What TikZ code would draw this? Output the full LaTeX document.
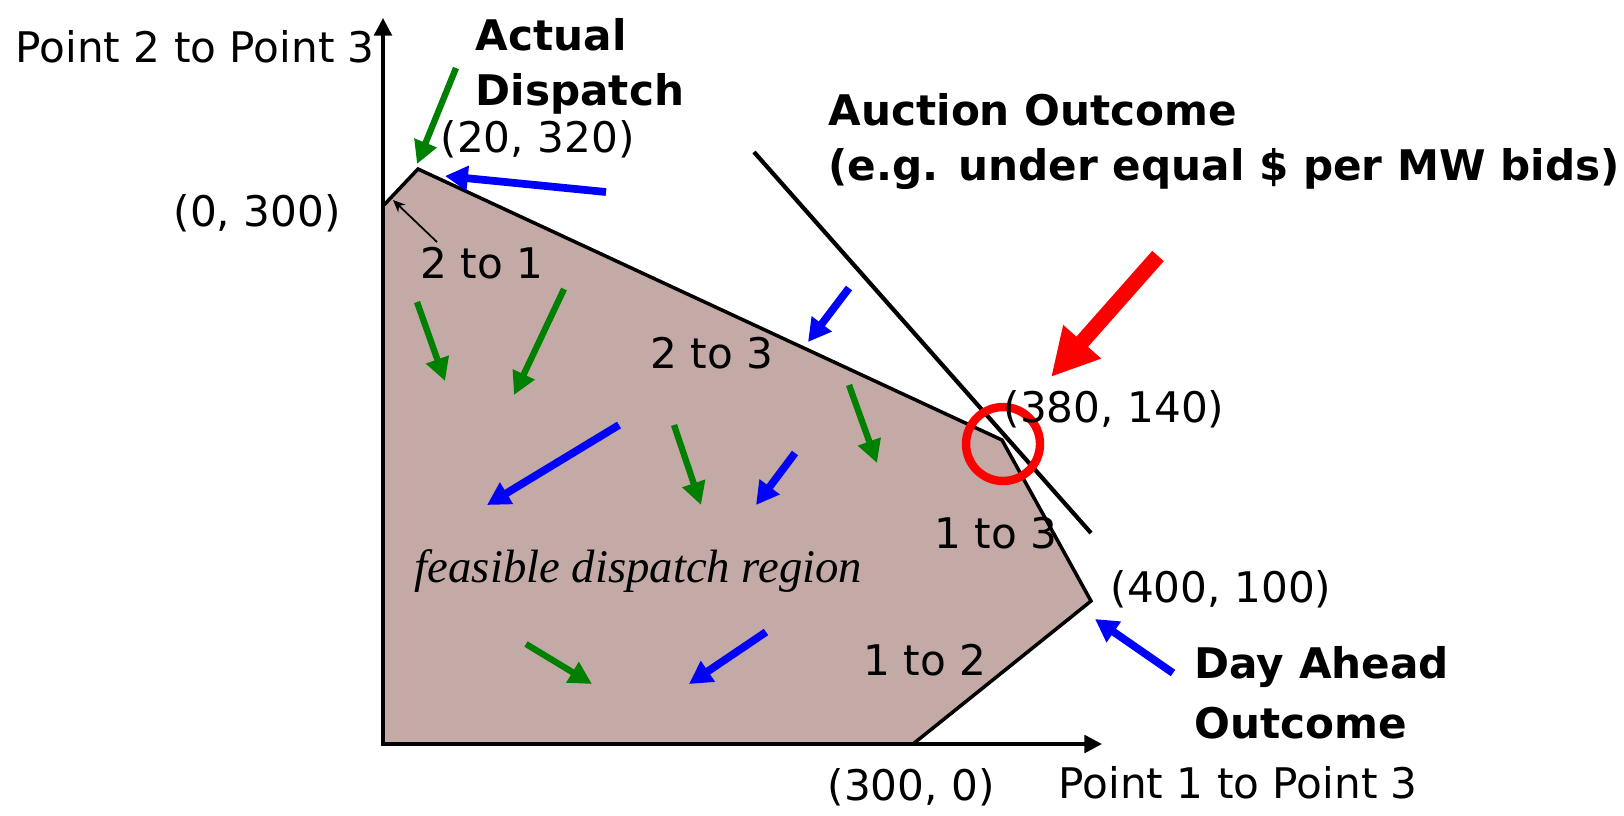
\documentclass[tikz,border=0pt]{standalone}
\usepackage{fontspec}
\setmainfont{DejaVu Sans}
\newfontfamily\regionfont{Liberation Serif}
\usetikzlibrary{arrows.meta}

\definecolor{regionfill}{RGB}{196,170,166}
\definecolor{flowgreen}{RGB}{0,128,0}

\begin{document}
\begin{tikzpicture}[x=0.1mm, y=-0.1mm, font=\fontsize{12}{15}\selectfont, axis/.style={line width=1pt, -{Triangle[length=5pt,width=5pt]}}, coordlbl/.style={anchor=base west, inner sep=0pt}, callout/.style={anchor=base west, inner sep=0pt, align=left, font=\fontsize{12}{15.6}\selectfont\bfseries}, greenflow/.style={draw=flowgreen, line width=1.8pt, -{Triangle[length=6.5pt,width=6.5pt]}}, blueflow/.style={draw=blue, line width=2.2pt, -{Triangle[length=6.5pt,width=6.8pt]}}, bidarrow/.style={draw=red, line width=4.4pt, -{Triangle[length=13.4pt,width=13.4pt]}}]
\useasboundingbox (0,0) rectangle (1624,815);
% corners of the region
\coordinate (origin) at (383,744);
\coordinate (v0300) at (383,206);
\coordinate (v20320) at (418,169);
\coordinate (v380140) at (1002,440);
\coordinate (v400100) at (1091,601);
\coordinate (v3000) at (913,744);
\coordinate (ytip) at (383,18);
\coordinate (xtip) at (1102,744);
\filldraw[fill=regionfill, line width=1pt] (origin) -- (v0300) -- (v20320) -- (v380140) -- (v400100) -- (v3000) -- cycle;
\draw[axis] (origin) -- (ytip);
\draw[axis] (origin) -- (xtip);
% auction outcome line and marker
\coordinate (bidtop) at (754,152);
\coordinate (bidbot) at (1091,533);
\draw[line width=1.2pt] (bidtop) -- (bidbot);
\node[circle, draw=red, line width=2.4pt, minimum size=7.4mm, inner sep=0pt] (ring) at (1003,444) {};
\draw[bidarrow] (1158,256) -- (1051,377);
% flows
\foreach \a/\b/\c/\d in {456/68/417/164, 417/302/445/381, 564/289/514/395, 849/385/877/463, 674/425/701/505, 526/644/592/684}
  \draw[greenflow] (\a,\b) -- (\c,\d);
\foreach \a/\b/\c/\d in {606/192/445/176, 849/288/808/342, 619/425/487/505, 795/453/756/505, 766/632/689/684, 1173/673/1095/619}
  \draw[blueflow] (\a,\b) -- (\c,\d);
\draw[line width=0.5pt, -{Stealth[length=3.5pt,width=3pt]}] (437,242) -- (393,200);
% labels
\node[coordlbl] (ylabel) at (15,62) {Point 2 to Point 3};
\node[coordlbl] (xlabel) at (1058,798) {Point 1 to Point 3};
\node[coordlbl] (l0300) at (173,226) {(0, 300)};
\node[coordlbl] (l20320) at (440,152) {(20, 320)};
\node[coordlbl] (l380140) at (1003,422) {(380, 140)};
\node[coordlbl] (l400100) at (1110,602) {(400, 100)};
\node[coordlbl] (l3000) at (827,800) {(300, 0)};
\node[coordlbl] (c21) at (420,278) {2 to 1};
\node[coordlbl] (c23) at (650,368) {2 to 3};
\node[coordlbl] (c13) at (934,548) {1 to 3};
\node[coordlbl] (c12) at (863,675) {1 to 2};
\node[coordlbl, font=\fontsize{13.3}{16}\selectfont\regionfont\itshape] (region) at (414,582) {feasible dispatch region};
\node[callout] (actual) at (475,105) {Actual\\Dispatch};
\node[callout] (auction) at (828,180) {Auction Outcome\\(e.g. under equal \$ per MW bids)};
\node[callout, font=\fontsize{12}{16.8}\selectfont\bfseries] (dayahead) at (1194,738) {Day Ahead\\Outcome};
\end{tikzpicture}
\end{document}
